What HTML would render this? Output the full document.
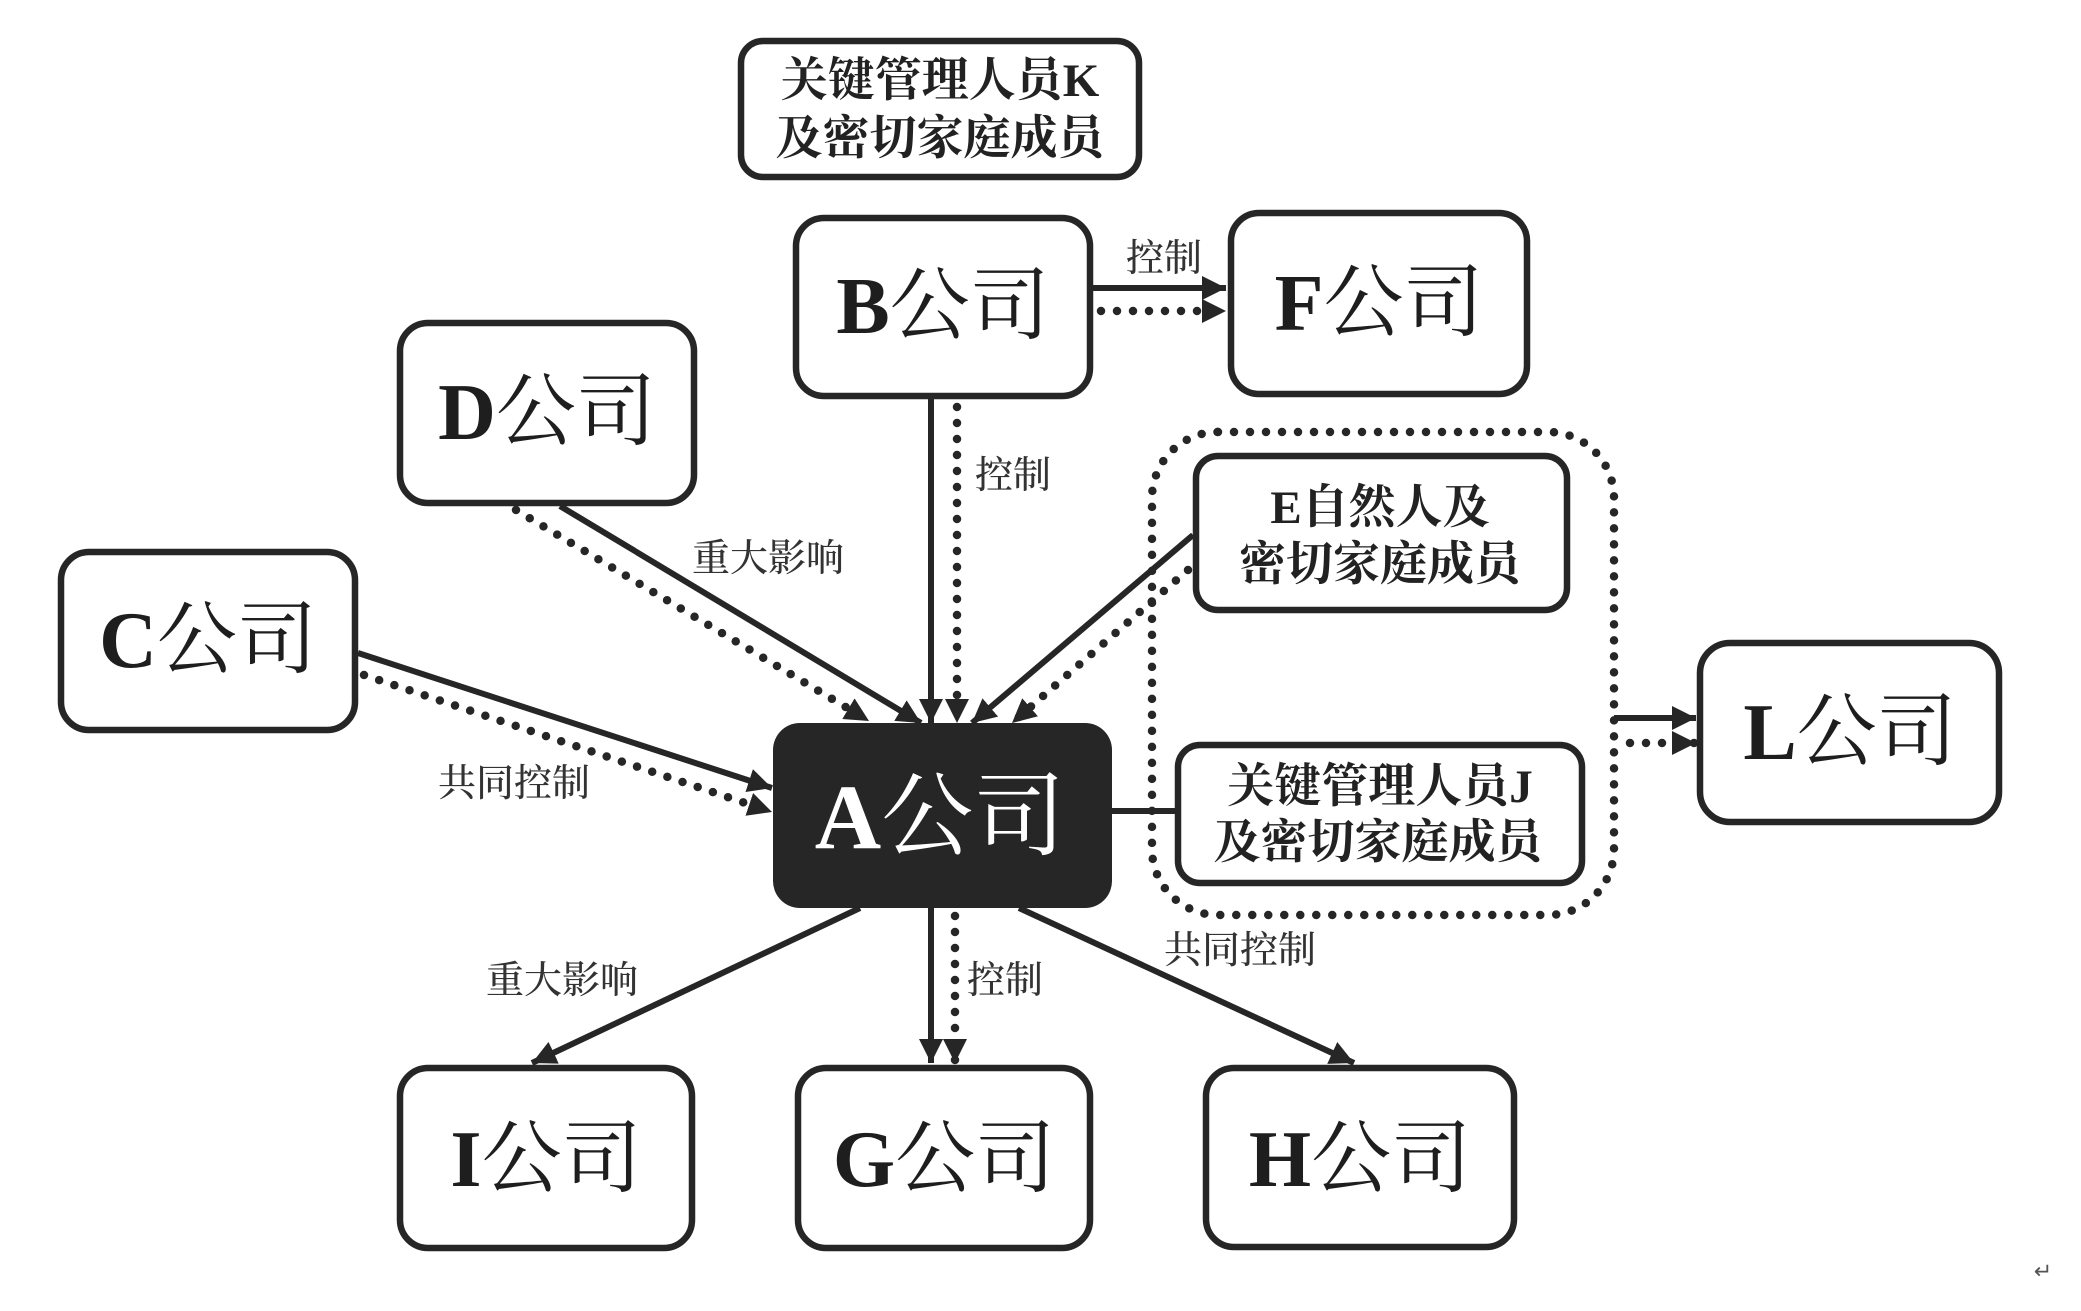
<!DOCTYPE html>
<html>
<head>
<meta charset="utf-8">
<style>
  html,body{margin:0;padding:0;background:#fff;}
  body{width:2081px;height:1311px;overflow:hidden;}
  svg{display:block;}
  .box{fill:#fff;stroke:#262626;stroke-width:6.5;}
  .ln{stroke:#262626;stroke-width:6;fill:none;}
  .dt{stroke:#262626;stroke-width:8.5;fill:none;stroke-linecap:round;stroke-dasharray:0 16;}
  .co{font-family:"Liberation Serif","Noto Serif CJK SC",serif;font-size:80px;fill:#1e1e1e;}
  .lt{font-weight:bold;}
  .mt{font-family:"Liberation Serif","Noto Serif CJK SC",serif;font-size:47px;font-weight:bold;fill:#222;}
  .lb{font-family:"Liberation Serif","Noto Serif CJK SC",serif;font-size:38px;font-weight:500;fill:#333;}
</style>
</head>
<body>
<svg width="2081" height="1311" viewBox="0 0 2081 1311" xmlns="http://www.w3.org/2000/svg">
  <defs>
    <marker id="ah" markerUnits="userSpaceOnUse" markerWidth="26" markerHeight="26" refX="24" refY="12" orient="auto">
      <path d="M0,0 L24,12 L0,24 z" fill="#262626"/>
    </marker>
  </defs>

  <!-- dotted container -->
  <rect x="1152" y="432" width="462" height="483" rx="66" ry="66" class="dt"/>

  <!-- connectors -->
  <line x1="1093" y1="288" x2="1226" y2="288" class="ln" marker-end="url(#ah)"/>
  <line x1="1101" y1="311" x2="1226" y2="311" class="dt" marker-end="url(#ah)"/>
  <line x1="931" y1="399" x2="931" y2="723" class="ln" marker-end="url(#ah)"/>
  <line x1="957" y1="407" x2="957" y2="723" class="dt" marker-end="url(#ah)"/>
  <line x1="560" y1="506" x2="921" y2="723" class="ln" marker-end="url(#ah)"/>
  <line x1="516" y1="510" x2="869" y2="721" class="dt" marker-end="url(#ah)"/>
  <line x1="358" y1="653" x2="772" y2="788" class="ln" marker-end="url(#ah)"/>
  <line x1="364" y1="675" x2="772" y2="812" class="dt" marker-end="url(#ah)"/>
  <line x1="1193" y1="535" x2="972" y2="723" class="ln" marker-end="url(#ah)"/>
  <line x1="1188" y1="570" x2="1012" y2="723" class="dt" marker-end="url(#ah)"/>
  <line x1="1110" y1="811" x2="1176" y2="811" class="ln"/>
  <line x1="1614" y1="718" x2="1696" y2="718" class="ln" marker-end="url(#ah)"/>
  <line x1="1630" y1="743" x2="1696" y2="743" class="dt" marker-end="url(#ah)"/>
  <line x1="860" y1="908" x2="532" y2="1063" class="ln" marker-end="url(#ah)"/>
  <line x1="931" y1="908" x2="931" y2="1063" class="ln" marker-end="url(#ah)"/>
  <line x1="955" y1="916" x2="955" y2="1063" class="dt" marker-end="url(#ah)"/>
  <line x1="1019" y1="908" x2="1354" y2="1063" class="ln" marker-end="url(#ah)"/>

  <!-- boxes -->
  <rect x="741" y="41" width="398" height="136" rx="22" class="box"/>
  <rect x="796" y="218" width="294" height="178" rx="28" class="box"/>
  <rect x="1231" y="213" width="296" height="181" rx="28" class="box"/>
  <rect x="400" y="323" width="294" height="180" rx="28" class="box"/>
  <rect x="61" y="552" width="294" height="178" rx="28" class="box"/>
  <rect x="773" y="723" width="339" height="185" rx="27" fill="#262626"/>
  <rect x="1196" y="456" width="371" height="154" rx="22" class="box"/>
  <rect x="1178" y="745" width="404" height="138" rx="22" class="box"/>
  <rect x="1700" y="643" width="299" height="179" rx="30" class="box"/>
  <rect x="400" y="1068" width="292" height="180" rx="28" class="box"/>
  <rect x="798" y="1068" width="292" height="180" rx="28" class="box"/>
  <rect x="1206" y="1068" width="308" height="179" rx="28" class="box"/>

  <!-- box texts -->
  <text x="940" y="81" text-anchor="middle" dominant-baseline="central" class="mt">关键管理人员K</text>
  <text x="940" y="139" text-anchor="middle" dominant-baseline="central" class="mt">及密切家庭成员</text>

  <text x="943" y="307" text-anchor="middle" dominant-baseline="central" class="co"><tspan class="lt">B</tspan>公司</text>
  <text x="1379" y="304" text-anchor="middle" dominant-baseline="central" class="co"><tspan class="lt">F</tspan>公司</text>
  <text x="547" y="413" text-anchor="middle" dominant-baseline="central" class="co"><tspan class="lt">D</tspan>公司</text>
  <text x="208" y="641" text-anchor="middle" dominant-baseline="central" class="co"><tspan class="lt">C</tspan>公司</text>
  <text x="940" y="817" text-anchor="middle" dominant-baseline="central" class="co" style="font-size:92px;fill:#fff;"><tspan class="lt">A</tspan>公司</text>

  <text x="1380" y="508" text-anchor="middle" dominant-baseline="central" class="mt">E自然人及</text>
  <text x="1380" y="565" text-anchor="middle" dominant-baseline="central" class="mt">密切家庭成员</text>

  <text x="1380" y="787" text-anchor="middle" dominant-baseline="central" class="mt">关键管理人员J</text>
  <text x="1378" y="843" text-anchor="middle" dominant-baseline="central" class="mt">及密切家庭成员</text>

  <text x="1850" y="733" text-anchor="middle" dominant-baseline="central" class="co"><tspan class="lt">L</tspan>公司</text>
  <text x="546" y="1160" text-anchor="middle" dominant-baseline="central" class="co"><tspan class="lt">I</tspan>公司</text>
  <text x="944" y="1160" text-anchor="middle" dominant-baseline="central" class="co"><tspan class="lt">G</tspan>公司</text>
  <text x="1360" y="1160" text-anchor="middle" dominant-baseline="central" class="co"><tspan class="lt">H</tspan>公司</text>

  <!-- labels -->
  <text x="1164" y="259" text-anchor="middle" dominant-baseline="central" class="lb">控制</text>
  <text x="1013" y="476" text-anchor="middle" dominant-baseline="central" class="lb">控制</text>
  <text x="768" y="559" text-anchor="middle" dominant-baseline="central" class="lb">重大影响</text>
  <text x="514" y="784" text-anchor="middle" dominant-baseline="central" class="lb">共同控制</text>
  <text x="562" y="981" text-anchor="middle" dominant-baseline="central" class="lb">重大影响</text>
  <text x="1005" y="981" text-anchor="middle" dominant-baseline="central" class="lb">控制</text>
  <text x="1240" y="951" text-anchor="middle" dominant-baseline="central" class="lb">共同控制</text>

  <text x="2043" y="1272" text-anchor="middle" dominant-baseline="central" style="font-family:'DejaVu Sans',sans-serif;font-size:22px;fill:#555;">↵</text>
</svg>
</body>
</html>
